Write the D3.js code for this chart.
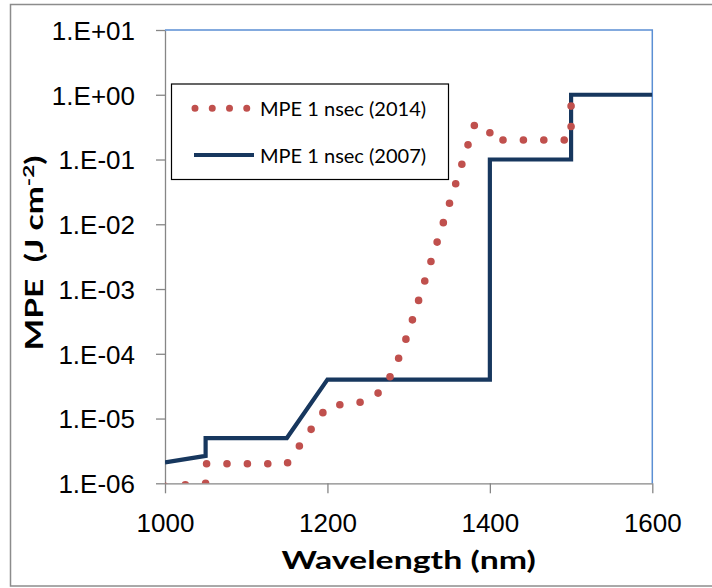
<!DOCTYPE html>
<html>
<head>
<meta charset="utf-8">
<script src="https://cdn.jsdelivr.net/npm/d3@7"></script>
<style>
    body { margin: 0; background: #fff; }
    svg { display: block; font-family: Lato, "Open Sans", sans-serif; }
    .axis text { font-size: 26px; fill: #000; }
    .axis line, .axis path { stroke: #868686; stroke-width: 1.3; }
</style>
</head>
<body>
<div id="container"></div>
<script>
//-----------------------------DATA-----------------------------//
// MPE 1 nsec (2014), dotted red series
const wl2014 = [1000, 1050, 1050, 1150, 1200, 1240, 1260, 1270, 1280, 1290, 1300, 1320, 1340, 1360, 1380, 1382, 1400, 1400, 1500, 1500];
const mpe2014 = [9e-7, 1e-6, 2e-6, 2e-6, 1.55e-5, 1.78e-5, 2.29e-5, 3.16e-5, 5.1e-5, 1e-4, 2.19e-4, 1.35e-3, 8.3e-3, 0.051, 0.316, 0.362, 0.272, 0.2, 0.2, 1.0];
// MPE 1 nsec (2007), solid navy series
const wl2007 = [1000, 1050, 1050, 1150, 1200, 1400, 1400, 1500, 1500, 1600];
const mpe2007 = [2.1e-6, 2.65e-6, 5e-6, 5e-6, 4e-5, 4e-5, 0.1, 0.1, 1, 1];

const xTicks = [1000, 1200, 1400, 1600];
const yTicks = [1e-6, 1e-5, 1e-4, 1e-3, 1e-2, 1e-1, 1, 10];
const yTickLabels = ["1.E-06", "1.E-05", "1.E-04", "1.E-03", "1.E-02", "1.E-01", "1.E+00", "1.E+01"];
const seriesNames = ["MPE 1 nsec (2014)", "MPE 1 nsec (2007)"];

//-----------------------------SVG------------------------------//
const width = 712;
const height = 588;
const plot = {left: 165, right: 652.3, top: 30, bottom: 483.3};

const svg = d3.select("div#container").append("svg")
    .attr("width", width)
    .attr("height", height);

// chart border
svg.append("rect")
    .attr("x", 10.5).attr("y", 4.5)
    .attr("width", 730).attr("height", 581.5)
    .attr("fill", "none")
    .attr("stroke", "#8c8c8c")
    .attr("stroke-width", 1.5);

//----------------------------SCALES----------------------------//
const xScale = d3.scaleLinear().domain([1000, 1600]).range([plot.left, plot.right]);
const yScale = d3.scaleLog().domain([1e-6, 10]).range([plot.bottom, plot.top]);

//-----------------------------AXES-----------------------------//
const xaxis = d3.axisBottom(xScale)
    .tickValues(xTicks)
    .tickFormat(d3.format("d"))
    .tickSize(10)
    .tickSizeOuter(0)
    .tickPadding(20);

const yaxis = d3.axisLeft(yScale)
    .tickValues(yTicks)
    .tickFormat(function (d, i) { return yTickLabels[i]; })
    .tickSize(9)
    .tickSizeOuter(0)
    .tickPadding(21);

svg.append("g")
    .attr("class", "axis")
    .attr("transform", "translate(0," + plot.bottom + ")")
    .call(xaxis);

svg.append("g")
    .attr("class", "axis")
    .attr("transform", "translate(" + plot.left + ",0)")
    .call(yaxis)
    .selectAll("text")
    .attr("dy", "0.36em");

// top and right edges of the plot area
svg.append("path")
    .attr("d", "M" + plot.left + "," + plot.top + "H" + plot.right + "V" + plot.bottom)
    .attr("fill", "none")
    .attr("stroke", "#5b8fd4")
    .attr("stroke-width", 1.5);

// axis titles (the original titles are stretched wide)
svg.append("text")
    .attr("transform", "translate(" + (plot.left + plot.right) / 2 + ",569) scale(1.41,1)")
    .attr("text-anchor", "middle")
    .style("font-size", "24px")
    .style("font-weight", "bold")
    .text("Wavelength (nm)");

const ytitle = svg.append("text")
    .attr("transform", "translate(43,253) rotate(-90) scale(1.4,1)")
    .attr("text-anchor", "middle")
    .style("font-size", "24px")
    .style("font-weight", "bold")
    .style("white-space", "pre");
ytitle.append("tspan").text("MPE  (J cm");
ytitle.append("tspan").attr("dy", -9).style("font-size", "16px").text("-2");
ytitle.append("tspan").attr("dy", 9).text(")");

//----------------------------LINES-----------------------------//
svg.append("clipPath")
    .attr("id", "plotclip")
    .append("rect")
    .attr("x", plot.left).attr("y", plot.top)
    .attr("width", plot.right - plot.left)
    .attr("height", plot.bottom - plot.top);

const line = d3.line()
    .x(function (d) { return xScale(d[0]); })
    .y(function (d) { return yScale(d[1]); });

const pts2007 = wl2007.map(function (w, i) { return [w, mpe2007[i]]; });
const pts2014 = wl2014.map(function (w, i) { return [w, mpe2014[i]]; });

svg.append("path")
    .attr("clip-path", "url(#plotclip)")
    .attr("d", line(pts2007))
    .attr("fill", "none")
    .attr("stroke", "#17375e")
    .attr("stroke-width", 4.2)
    .attr("stroke-linejoin", "miter");

svg.append("path")
    .attr("clip-path", "url(#plotclip)")
    .attr("d", line(pts2014))
    .attr("fill", "none")
    .attr("stroke", "#c0504d")
    .attr("stroke-width", 7.6)
    .attr("stroke-linecap", "round")
    .attr("stroke-dasharray", "0 20.4");

//----------------------------LEGEND----------------------------//
const legend = svg.append("g");
legend.append("rect")
    .attr("x", 171.5).attr("y", 84)
    .attr("width", 277).attr("height", 95.5)
    .attr("fill", "#fff")
    .attr("stroke", "#000")
    .attr("stroke-width", 1.2);

legend.append("path")
    .attr("d", "M195,108.3H247")
    .attr("stroke", "#c0504d")
    .attr("stroke-width", 7)
    .attr("stroke-linecap", "round")
    .attr("stroke-dasharray", "0 17.25");

legend.append("path")
    .attr("d", "M194,155H254")
    .attr("stroke", "#17375e")
    .attr("stroke-width", 4.2);

legend.selectAll("text.lg")
    .data(seriesNames)
    .enter()
    .append("text")
    .attr("class", "lg")
    .attr("x", 260)
    .attr("y", function (d, i) { return 115.5 + i * 47.5; })
    .style("font-size", "20px")
    .text(function (d) { return d; });
</script>
</body>
</html>
